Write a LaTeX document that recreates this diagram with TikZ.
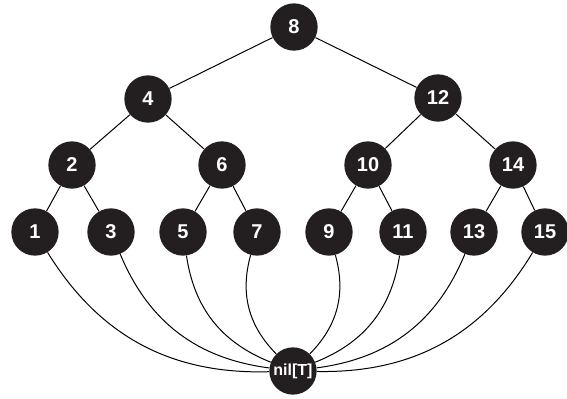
\documentclass[tikz,border=0pt]{standalone}
\usepackage{fontspec}
\setmainfont{Liberation Sans}
\usetikzlibrary{positioning}
\definecolor{nodeblack}{RGB}{35,31,32}

\begin{document}
\begin{tikzpicture}[x=0.75pt, y=-0.75pt,
    vertex/.style={circle, fill=nodeblack, text=white, inner sep=0pt,
                   minimum size=35.5pt, font=\bfseries\fontsize{15}{15}\selectfont},
    link/.style={draw=black, line width=0.75pt}]
    \useasboundingbox (0,0) rectangle (567,399);
    % the tree
    \node[vertex] (n8)  at (294,27)  {8};
    \node[vertex] (n4)  at (148,99)  {4};
    \node[vertex] (n12) at (438,98)  {12};
    \node[vertex] (n2)  at (72,165)  {2};
    \node[vertex] (n6)  at (222,165) {6};
    \node[vertex] (n10) at (368,165) {10};
    \node[vertex] (n14) at (513,165) {14};
    \node[vertex] (n1)  at (35,232)  {1};
    \node[vertex] (n3)  at (111,232) {3};
    \node[vertex] (n5)  at (183,232) {5};
    \node[vertex] (n7)  at (257,232) {7};
    \node[vertex] (n9)  at (329,232) {9};
    \node[vertex] (n11) at (403,232) {11};
    \node[vertex] (n13) at (474,232) {13};
    \node[vertex] (n15) at (545,232) {15};
    % sentinel
    \node[vertex, font=\bfseries\fontsize{12}{12}\selectfont] (nil) at (293,371) {nil[T]};

    \foreach \a/\b in {n8/n4, n8/n12, n4/n2, n4/n6, n12/n10, n12/n14,
                       n2/n1, n2/n3, n6/n5, n6/n7, n10/n9, n10/n11, n14/n13, n14/n15}
        \draw[link] (\a) -- (\b);
    \foreach \l in {n1, n3, n5, n7}
        \draw[link] (\l) to[bend right=30] (nil);
    \foreach \l in {n9, n11, n13, n15}
        \draw[link] (\l) to[bend left=30] (nil);
\end{tikzpicture}
\end{document}
